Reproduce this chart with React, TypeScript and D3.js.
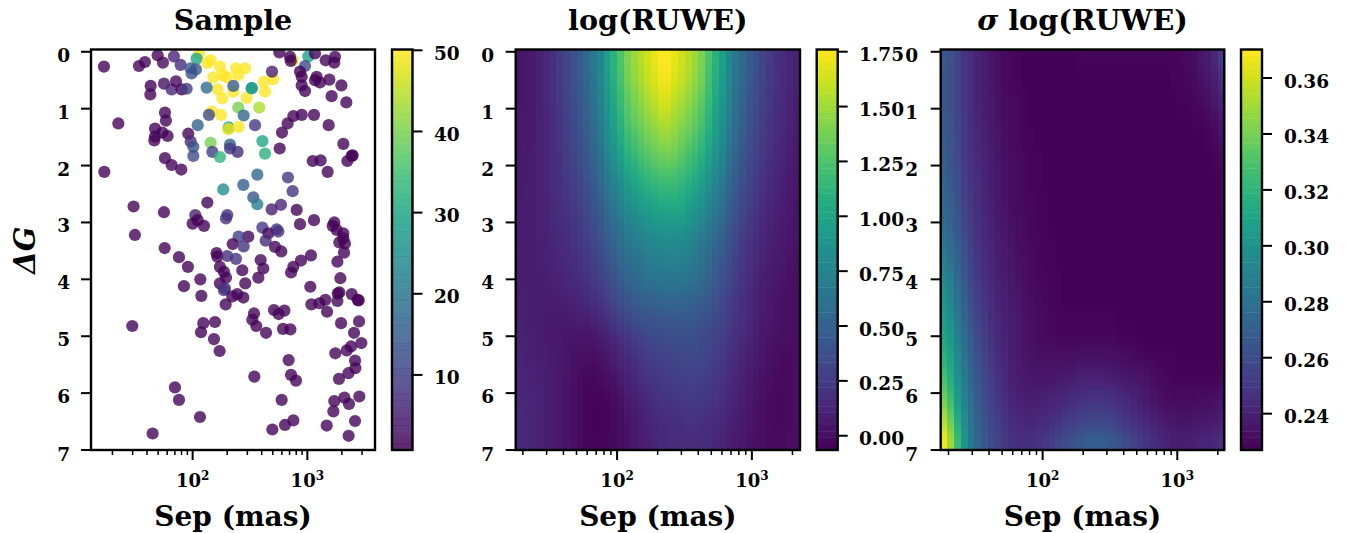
import React from "react";
import * as d3 from "d3";

const W = 1345, H = 533;
const FONT = "'DejaVu Serif', serif";

// Scatter: [log10 Sep (mas), Delta G, RUWE]
const samplePoints: number[][] = [
[1.227,.26,1.5],[1.532,.25,1.5],[1.584,.18,1.5],[1.695,.06,1.5],[1.741,.19,2],[1.837,.08,6],[1.895,.23,7],[2.058,.03,50],[2.035,.12,30],[1.983,.29,15],[2.029,.31,14],[1.991,.38,13],
[2.128,.2,50],[2.157,.15,50],[2.238,.26,50],[2.378,.29,50],[2.459,.29,50],[2.18,.45,50],[2.267,.41,50],[2.297,.45,50],[2.398,.41,50],[2.218,.66,50],[2.259,.82,50],[2.355,.7,50],[2.471,.81,50],
[2.515,.64,28],[2.515,.64,28],[2.622,.53,50],[2.631,.7,50],[2.703,.48,50],[2.692,.35,5],[2.355,.6,15],[2.122,.63,18],[1.634,.6,1.5],[1.631,.75,1.5],[1.75,.56,3],[1.817,.66,6],[1.855,.52,2],[1.904,.66,1.5],[1.948,.65,10],
[2.756,.01,1.5],[2.872,.15,48],[2.849,.09,1.5],[2.855,.16,1.5],[3.009,.08,28],[3.067,.03,1.5],[2.98,.25,12],[3.16,.15,1.5],[3.241,.09,1.5],[3.235,.19,1.5],[2.936,.35,1.5],[2.951,.44,1.5],[2.951,.59,1.5],[2.98,.69,1.5],[3.067,.5,1.5],[3.081,.44,1.5],[3.11,.54,1.5],[3.192,.49,1.5],[3.297,.59,1.5],[3.212,.78,1.5],[3.34,.89,1.5],
[1.759,1.07,1.5],[1.767,1.21,1.5],[1.352,1.26,1.5],[1.672,1.35,1.5],[1.735,1.42,1.5],[1.672,1.49,1],[1.666,1.56,1.5],[1.782,1.48,1.5],[1.962,1.44,1.5],[1.983,1.58,7],[2.006,1.67,13],[2.006,1.83,12],[2.044,1.29,16],[2.166,1.05,50],[2.142,1.11,12],[2.247,1.11,50],[2.398,.98,40],[2.581,.98,44],[2.445,1.12,17],[2.544,1.29,9],[2.314,1.33,30],[2.311,1.36,48],[2.401,1.32,50],
[2.157,1.6,40],[2.326,1.63,16],[2.326,1.7,9],[2.392,1.76,7],[2.172,1.76,10],[2.238,1.85,33],[2.608,1.57,30],[2.631,1.79,32],[2.759,1.7,1.5],[2.779,1.42,1.5],[2.828,1.26,1.5],[2.878,1.13,1.5],[2.951,1.11,1.5],[3.058,1.11,1.5],[3.186,1.29,1.5],[3.314,1.62,1.5],[3.395,1.82,1],[3.387,1.83,1],[3.349,1.92,1.5],[3.047,1.92,1.5],[3.116,1.91,1.5],[3.177,2.11,1.5],[1.23,2.11,1.5],[1.759,1.87,1.5],[1.817,1.99,1.5],[1.901,2.07,1.5],
[2.564,2.16,17],[2.831,2.21,9],[2.442,2.34,15],[2.267,2.42,25],[2.872,2.45,8],[2.529,2.56,14],[2.564,2.68,22],[2.77,2.69,6],[2.689,2.77,5],[2.907,2.78,1.5],[2.128,2.65,1.5],[1.485,2.72,1.5],[1.75,2.82,1.5],[1.497,3.22,1.5],[2.023,2.87,5],[2,3.02,1.5],[2.044,2.96,1],[2.099,3.06,1.5],[2.302,2.87,8],[2.291,2.93,8],[2.936,3.03,1.5],[3.058,2.96,1.5],[3.235,3,1.5],[3.221,3.06,1],[3.256,3.13,1.5],[3.314,3.19,1.5],[3.314,3.28,1],[3.279,3.35,1.5],[3.328,3.37,1.5],[3.32,3.53,1.5],
[2.608,3.09,9],[2.733,3.12,9],[2.66,3.19,1.5],[2.747,3.16,8],[2.637,3.32,7],[2.485,3.25,1.5],[2.401,3.25,10],[2.349,3.38,1.5],[2.445,3.42,8],[2.718,3.43,1.5],[2.773,3.51,1.5],[1.756,3.45,1.5],[1.881,3.61,1.5],[2.209,3.54,1.5],[2.215,3.6,1],[2.302,3.59,7],[2.378,3.64,8],[2.593,3.66,1.5],[3.032,3.58,1.5],[2.945,3.67,1.5],[2.878,3.78,1.5],[3.262,3.69,1.5],[1.959,3.78,1.5],
[2.238,3.78,1.5],[2.273,3.87,1.5],[2.433,3.84,1.5],[2.616,3.81,1.5],[2.858,3.88,1.5],[2.291,3.97,1.5],[2.067,4,1.5],[1.924,4.12,1.5],[2.238,4.07,1.5],[2.282,4.16,8],[2.273,4.19,8],[2.459,4.07,1.5],[2.573,3.97,1.5],[2.076,4.29,1.5],[2.39,4.26,1.5],[2.346,4.3,1.5],[2.442,4.32,1.5],[2.288,4.44,1.5],
[3.288,3.98,1.5],[3.026,4.13,1.5],[3.265,4.25,1.5],[3.279,4.23,1],[3.387,4.26,1.5],[3.439,4.36,1],[3.448,4.37,1],[3.157,4.36,1.5],[3.105,4.42,1.5],[3.035,4.44,1.5],[3.262,4.38,1.5],[3.172,4.57,1.5],[2.709,4.54,1.5],[2.75,4.61,1.5],[2.8,4.55,1.5],[2.535,4.6,1.5],[2.52,4.71,1.5],[2.555,4.82,1.5],[2.64,4.94,1.5],[2.788,4.87,1.5],[2.852,4.88,1.5],[2.195,4.75,1.5],[2.093,4.77,1.5],[2.073,4.93,1.5],[2.186,5.05,1.5],[2.235,5.26,1.5],[1.474,4.82,1.5],
[3.294,4.77,1.5],[3.451,4.74,1.5],[3.407,4.94,1.5],[3.471,5.12,1.5],[3.381,5.18,1.5],[3.343,5.25,1.5],[3.244,5.3,1.5],[2.837,5.42,1.5],[3.416,5.43,1.5],[3.419,5.56,1.5],[3.358,5.65,1.5],[3.276,5.75,1.5],[2.858,5.68,1.5],[2.901,5.78,1.5],[2.538,5.71,1.5],[1.846,5.9,1.5],[1.881,6.12,1.5],[2.064,6.42,1.5],[1.651,6.71,1.5],[2.776,6.12,1.5],[3.323,6.08,1.5],[3.453,6.06,1.5],[3.235,6.14,1.5],[3.363,6.19,1.5],[3.227,6.32,1.5],[3.416,6.49,1.5],[3.169,6.57,1.5],[2.878,6.48,1.5],[2.805,6.56,1.5],[2.695,6.64,1.5],[3.36,6.75,1.5],
];

// log(RUWE) heat map, hundredths, rows top to bottom
const ruweGrid: number[][] = [
[4,5,7,10,14,19,25,31,38,45,55,66,79,96,110,125,140,149,156,163,169,176,176,169,163,156,149,140,125,110,96,79,66,55,45,38,31,25,20,16,13,10],
[4,5,7,10,14,19,24,31,38,45,54,65,77,94,108,122,137,146,153,160,166,172,172,166,160,153,146,137,122,108,94,77,65,54,44,37,30,24,20,15,13,10],
[4,5,7,10,14,18,23,30,36,43,51,62,74,90,103,117,131,139,146,153,158,165,165,158,153,146,139,131,117,103,90,74,62,51,42,35,29,23,19,15,12,9],
[5,6,7,10,13,17,22,28,34,41,48,58,70,85,98,111,124,132,138,144,150,156,156,151,145,139,132,124,111,98,85,70,58,48,40,33,27,22,18,14,11,8],
[5,6,7,10,13,17,21,27,33,38,45,55,66,80,91,104,116,123,129,135,140,145,146,142,136,130,124,116,104,92,80,66,55,45,37,31,25,20,16,13,10,7],
[6,7,8,10,13,16,20,25,30,35,42,50,60,73,84,95,106,113,119,124,129,133,134,132,127,120,114,107,96,85,74,61,50,42,34,28,23,18,15,11,9,6],
[6,7,8,10,13,16,19,23,28,32,38,46,55,66,75,85,95,101,107,112,116,119,120,119,115,110,104,97,87,77,67,55,46,38,31,26,21,16,13,10,7,5],
[7,8,9,10,12,15,18,21,25,29,34,41,49,59,67,76,85,91,95,100,103,106,107,107,104,99,94,88,79,70,61,50,42,34,28,23,18,14,11,8,6,4],
[8,8,9,10,12,14,16,19,22,26,30,36,43,52,59,67,75,80,84,88,91,93,94,94,92,88,84,78,70,62,54,45,37,30,24,20,15,12,9,7,5,3],
[8,8,9,10,11,13,15,17,20,23,27,32,38,46,52,59,66,70,74,77,79,81,82,82,81,78,74,69,62,55,48,40,33,26,21,17,13,10,8,6,4,3],
[9,9,9,9,10,11,13,15,17,20,24,28,33,40,46,52,58,62,65,68,70,72,73,73,72,70,67,62,56,49,43,36,29,23,19,15,11,8,6,5,3,2],
[9,9,9,8,9,10,11,13,15,17,20,24,28,34,40,46,51,55,58,61,63,64,65,65,65,63,60,56,51,45,38,32,26,21,16,12,9,7,5,3,2,1],
[10,9,9,8,8,8,9,10,11,13,15,18,22,27,32,37,41,45,48,50,51,52,52,52,52,51,49,47,43,38,33,28,23,19,15,11,8,5,3,2,1,1],
[10,9,9,8,7,6,6,6,7,8,9,11,15,19,24,28,32,36,38,40,41,42,42,43,43,43,42,40,37,34,30,26,22,18,14,10,7,5,3,2,1,1],
[11,10,9,8,7,6,5,4,3,3,3,4,6,9,13,17,21,25,28,31,33,34,35,36,37,37,36,34,32,29,26,22,18,15,11,8,5,3,1,0,0,0],
[12,11,10,9,8,7,5,4,2,1,0,0,2,4,8,12,15,19,22,25,27,28,29,30,31,32,32,31,29,26,23,19,15,12,9,6,4,2,0,-1,-1,0],
[13,12,11,10,9,7,5,3,1,-1,-3,-3,-2,0,2,6,10,13,17,20,22,24,25,26,27,28,28,27,25,23,20,16,13,10,7,4,2,0,-1,-2,-1,0],
[14,13,12,11,9,7,5,3,0,-2,-4,-5,-4,-3,-1,2,6,9,12,15,18,20,21,22,23,24,24,23,22,20,17,14,11,8,5,3,1,-1,-2,-2,-1,0],
[15,14,13,11,9,7,5,3,0,-2,-4,-5,-5,-4,-2,0,3,6,9,12,14,16,17,18,19,20,20,19,18,16,14,11,9,6,4,2,0,-1,-2,-2,-1,0],
[15,14,13,11,9,7,5,3,1,-1,-3,-4,-4,-3,-2,0,2,5,8,10,12,14,15,16,17,17,17,16,15,13,11,9,7,5,3,1,0,-1,-1,-1,0,0],
];

// sigma log(RUWE) heat map, thousandths, rows top to bottom
const sigmaGrid: number[][] = [
[266,262,256,249,245,241,238,235,233,231,230,229,228,228,228,228,228,228,228,228,229,229,229,229,229,229,229,229,229,229,229,229,229,229,229,230,231,232,235,238,243,250],
[265,262,256,249,245,241,238,235,233,231,230,229,228,228,228,228,228,228,228,228,228,228,228,228,228,228,228,228,228,228,228,228,228,228,229,229,230,231,233,235,239,245],
[265,262,256,250,245,241,238,236,234,232,231,230,229,228,228,228,228,228,228,228,228,228,228,228,228,228,228,228,228,228,228,228,228,228,228,229,229,230,231,233,236,240],
[266,263,257,250,246,242,239,236,234,232,231,230,229,228,228,228,228,228,228,228,228,228,228,228,228,228,228,228,228,228,228,228,228,228,228,228,228,229,229,230,232,235],
[267,264,258,251,247,243,240,237,235,233,231,230,229,229,228,228,228,228,228,228,228,228,228,228,228,228,228,228,228,228,228,228,228,228,228,228,228,228,228,229,230,232],
[269,265,259,252,248,244,241,238,235,233,232,231,230,229,229,228,228,228,228,228,228,228,228,228,228,228,228,228,228,228,228,228,228,228,228,228,228,228,228,228,229,230],
[271,267,261,253,249,245,241,238,236,234,232,231,230,229,229,228,228,228,228,228,228,228,228,228,228,228,228,228,228,228,228,228,228,228,228,228,228,228,228,228,228,229],
[273,270,263,255,250,246,242,239,236,234,232,231,230,230,229,229,228,228,228,228,228,228,228,228,228,228,228,228,228,228,228,228,228,228,228,228,228,228,228,228,228,229],
[276,272,265,257,252,247,243,240,237,235,233,232,231,230,229,229,228,228,228,228,228,228,228,228,228,228,228,228,228,228,228,228,228,228,228,228,228,228,228,228,228,228],
[281,276,268,260,253,248,244,241,238,236,234,232,231,230,230,229,229,228,228,228,228,228,228,228,228,228,228,228,228,228,228,228,228,228,228,228,228,228,228,228,228,228],
[287,281,272,263,255,250,246,242,239,237,235,233,232,231,230,229,229,228,228,228,228,228,228,228,228,228,228,228,228,228,228,228,228,228,228,228,228,228,228,228,228,228],
[294,287,276,266,258,252,247,243,240,238,236,234,232,231,230,230,229,229,228,228,228,228,228,228,228,228,228,228,228,228,228,228,228,228,228,228,228,228,228,228,228,228],
[301,293,281,270,261,254,249,245,241,239,237,235,233,232,231,230,229,229,228,228,228,228,228,228,228,228,228,228,228,228,228,228,228,228,228,228,228,228,228,228,228,228],
[306,298,285,273,265,257,251,246,243,240,238,236,234,233,232,231,230,229,229,229,229,229,229,229,229,229,228,228,228,228,228,228,228,228,228,228,228,228,228,228,228,228],
[312,304,290,277,268,260,253,248,244,241,238,236,234,233,232,231,231,230,230,230,230,230,230,230,230,230,229,229,229,228,228,228,228,228,228,228,228,228,228,228,228,228],
[319,310,295,282,271,263,256,250,246,243,239,237,235,234,233,233,233,233,233,233,234,234,234,234,234,233,233,232,231,231,230,230,229,229,229,228,228,228,228,228,228,228],
[328,317,300,286,274,266,258,253,248,244,240,238,237,236,236,236,236,237,238,239,240,240,240,240,240,239,238,237,236,235,234,232,231,230,229,229,229,229,229,229,229,230],
[340,326,305,290,277,268,260,255,250,246,242,240,239,239,239,240,241,242,243,245,247,248,248,248,248,247,245,243,241,239,237,235,233,232,231,231,231,231,232,232,233,234],
[353,337,314,296,281,271,263,257,253,249,245,243,242,242,243,244,246,248,250,252,255,256,257,257,256,255,252,249,247,244,242,240,238,236,235,234,234,235,235,236,237,239],
[368,349,324,301,285,274,266,259,256,252,248,246,246,247,248,250,253,257,260,263,266,268,269,269,268,266,263,259,256,252,249,246,243,241,239,239,239,240,241,241,243,246],
];

const deltaGTicks = [0, 1, 2, 3, 4, 5, 6, 7];
const sampleBarTicks = [10, 20, 30, 40, 50];
const ruweBarTicks = [0, 0.25, 0.5, 0.75, 1, 1.25, 1.5, 1.75];
const sigmaBarTicks = [0.24, 0.26, 0.28, 0.3, 0.32, 0.34, 0.36];

const TOP = 49.5, BOTTOM = 450;
const yScale = d3.scaleLinear().domain([-0.04, 7]).range([TOP, BOTTOM]);

const PANELS = [
  { title: "Sample", left: 91, right: 375, dom: [13, 3890], barL: 392, barR: 412.5, barDom: [0.75, 50.1], ylabel: 70, ticks: sampleBarTicks, fmt: (v: number) => String(v), lab: 434 },
  { title: "log(RUWE)", left: 515.7, right: 800, dom: [17.7, 2275], barL: 816.7, barR: 837.7, barDom: [-0.065, 1.76], ylabel: 494, ticks: ruweBarTicks, fmt: (v: number) => v.toFixed(2), lab: 859 },
  { title: "log(RUWE)", left: 940.7, right: 1224.3, dom: [17.5, 2234], barL: 1241, barR: 1262, barDom: [0.227, 0.3702], ylabel: 918, ticks: sigmaBarTicks, fmt: (v: number) => v.toFixed(2), lab: 1284 },
];

const minorValues = d3.range(1, 5).flatMap((e) => d3.range(1, 10).map((m) => m * 10 ** e));

function Heat({ grid, div, panel, clipId }: any) {
  const color = d3.scaleSequential(d3.interpolateViridis).domain(panel.barDom);
  const nRows = grid.length, nCols = grid[0].length;
  const xe = d3.scaleLinear().domain([0, nCols]).range([panel.left, panel.right]);
  const ye = d3.scaleLinear().domain([0, nRows]).range([TOP, BOTTOM]);
  return (
    <g clipPath={`url(#${clipId})`}>
      <g filter="url(#blurY)" shapeRendering="crispEdges">
        {grid.flatMap((row: number[], r: number) =>
          row.map((v, c) => {
            const y0 = r === 0 ? ye(0) - 60 : Math.round(ye(r));
            const y1 = r === nRows - 1 ? ye(nRows) + 60 : Math.round(ye(r + 1));
            const x0 = Math.round(xe(c)), x1 = Math.round(xe(c + 1));
            return <rect key={`${r}-${c}`} x={x0} width={x1 - x0} y={y0} height={y1 - y0} fill={color(v / div)} />;
          })
        )}
      </g>
    </g>
  );
}

function Frame({ panel, i }: any) {
  const x = d3.scaleLog().domain(panel.dom).range([panel.left, panel.right]);
  const barY = d3.scaleLinear().domain(panel.barDom).range([BOTTOM, TOP]);
  const color = d3.scaleSequential(d3.interpolateViridis).domain(panel.barDom);
  const steps = d3.range(0, 64);
  const opacity = i === 0 ? 0.85 : 1;
  const mid = (panel.left + panel.right) / 2;
  return (
    <g>
      <rect x={panel.left} y={TOP} width={panel.right - panel.left} height={BOTTOM - TOP} fill="none" stroke="#000" strokeWidth={2.4} />
      {deltaGTicks.map((t) => (
        <g key={t}>
          <line x1={panel.left - 10} x2={panel.left} y1={yScale(t)} y2={yScale(t)} stroke="#000" strokeWidth={2} />
          <text x={panel.ylabel} y={yScale(t) + (t === 7 ? 11 : 10)} textAnchor="end" fontSize={18.5} fontWeight={700} fontFamily={FONT}>{t}</text>
        </g>
      ))}
      {minorValues.filter((v) => v > panel.dom[0] && v < panel.dom[1]).map((v) => {
        const major = v === 100 || v === 1000;
        return <line key={v} x1={x(v)} x2={x(v)} y1={BOTTOM} y2={BOTTOM + (major ? 10 : 5)} stroke="#000" strokeWidth={major ? 2 : 1.5} />;
      })}
      {[2, 3].map((e) => (
        <text key={e} x={x(10 ** e)} y={487} textAnchor="middle" fontSize={18} fontWeight={700} fontFamily={FONT}>
          10<tspan dy={-7} fontSize={12}>{e}</tspan>
        </text>
      ))}
      <text x={mid} y={526} textAnchor="middle" fontSize={28} fontWeight={700} fontFamily={FONT}>Sep (mas)</text>
      <text x={mid} y={30} textAnchor="middle" fontSize={28.6} fontWeight={700} fontFamily={FONT}>
        {i === 2 ? <tspan fontStyle="italic">σ </tspan> : null}{panel.title}
      </text>
      {steps.map((s) => {
        const a = panel.barDom[0] + ((panel.barDom[1] - panel.barDom[0]) * s) / 64;
        const b = panel.barDom[0] + ((panel.barDom[1] - panel.barDom[0]) * (s + 1)) / 64;
        return <rect key={s} x={panel.barL} width={panel.barR - panel.barL} y={barY(b)} height={barY(a) - barY(b) + 0.4} fill={color((a + b) / 2)} opacity={opacity} />;
      })}
      <rect x={panel.barL} y={TOP} width={panel.barR - panel.barL} height={BOTTOM - TOP} fill="none" stroke="#000" strokeWidth={2.4} />
      {panel.ticks.map((t: number) => (
        <g key={t}>
          <line x1={panel.barR} x2={panel.barR + 10} y1={barY(t)} y2={barY(t)} stroke="#000" strokeWidth={2} />
          <text x={panel.lab} y={barY(t) + 9.5} fontSize={18.5} fontWeight={700} fontFamily={FONT}>{panel.fmt(t)}</text>
        </g>
      ))}
    </g>
  );
}

export default function App() {
  const p0 = PANELS[0];
  const x0 = d3.scaleLog().domain(p0.dom).range([p0.left, p0.right]);
  const color0 = d3.scaleSequential(d3.interpolateViridis).domain(p0.barDom);
  return (
    <svg width={W} height={H} viewBox={`0 0 ${W} ${H}`} style={{ position: "absolute", left: 0, top: 0, background: "#fff" }}>
      <defs>
        <filter id="blurY" filterUnits="userSpaceOnUse" x={0} y={-40} width={W} height={H + 80} colorInterpolationFilters="sRGB">
          <feGaussianBlur stdDeviation="0 7" />
        </filter>
        {PANELS.map((p, i) => (
          <clipPath key={i} id={`clip${i}`}>
            <rect x={p.left} y={TOP} width={p.right - p.left} height={BOTTOM - TOP} />
          </clipPath>
        ))}
      </defs>
      <g clipPath="url(#clip0)">
        {samplePoints.map(([lg, g, v], i) => (
          <circle key={i} cx={x0(10 ** lg)} cy={yScale(g)} r={6.1} fill={color0(v)} fillOpacity={0.8} />
        ))}
      </g>
      <Heat grid={ruweGrid} div={100} panel={PANELS[1]} clipId="clip1" />
      <Heat grid={sigmaGrid} div={1000} panel={PANELS[2]} clipId="clip2" />
      {PANELS.map((p, i) => <Frame key={i} panel={p} i={i} />)}
      <text transform="translate(35,250) rotate(-90)" textAnchor="middle" fontSize={29} fontWeight={700} fontStyle="italic" fontFamily={FONT}>ΔG</text>
    </svg>
  );
}
